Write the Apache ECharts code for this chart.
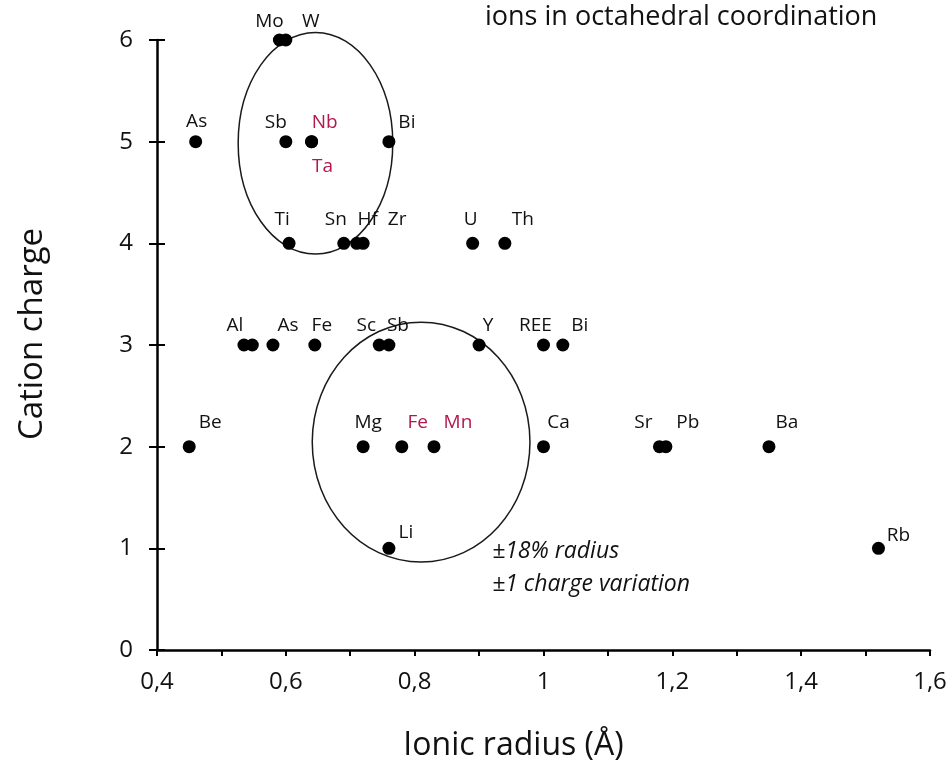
<!DOCTYPE html>
<html>
<head>
<meta charset="utf-8">
<title>Ions in octahedral coordination</title>
<script src="https://cdn.jsdelivr.net/npm/echarts@6/dist/echarts.min.js"></script>
<style>
  html, body { margin: 0; padding: 0; background: #fff; }
  #chart { width: 950px; height: 767px; }
</style>
</head>
<body>
<div id="chart"></div>
<script>
  // ions: name, ionic radius (Å), cation charge
  var ionNames  = ['Mo', 'W', 'As', 'Sb', 'Nb', 'Ta', 'Bi',
                   'Ti', 'Sn', 'Hf', 'Zr', 'U', 'Th',
                   'Al', '', 'As', 'Fe', 'Sc', 'Sb', 'Y', 'REE', 'Bi',
                   'Be', 'Mg', 'Fe', 'Mn', 'Ca', 'Sr', 'Pb', 'Ba',
                   'Li', 'Rb'];
  var ionRadius = [0.59, 0.60, 0.46, 0.60, 0.64, 0.64, 0.76,
                   0.605, 0.69, 0.71, 0.72, 0.89, 0.94,
                   0.535, 0.548, 0.58, 0.645, 0.745, 0.76, 0.90, 1.00, 1.03,
                   0.45, 0.72, 0.78, 0.83, 1.00, 1.18, 1.19, 1.35,
                   0.76, 1.52];
  var ionCharge = [6, 6, 5, 5, 5, 5, 5,
                   4, 4, 4, 4, 4, 4,
                   3, 3, 3, 3, 3, 3, 3, 3, 3,
                   2, 2, 2, 2, 2, 2, 2, 2,
                   1, 1];
  // ions written in red in the original
  var redIons = [4, 5, 24, 25];

  // substitution fields: centre radius, centre charge, half width, half height
  var fieldCx = [0.646, 0.81];
  var fieldCy = [4.985, 2.045];
  var fieldRx = [0.12, 0.169];
  var fieldRy = [1.09, 1.18];

  var xTicks = [0.4, 0.6, 0.8, 1.0, 1.2, 1.4, 1.6];
  var yTicks = [0, 1, 2, 3, 4, 5, 6];

  // label offsets (px) from each marker, same order as ionNames
  var labelOffset = [[-10, -18], [25, -18], [1, -20], [-10, -19], [13, -19], [11, 25], [18, -19],
                     [-7, -24], [-8, -24], [11, -24], [34, -24], [-2, -24], [18, -24],
                     [-9, -19], [0, 0], [15, -19], [7, -19], [-13, -19], [9, -19], [9, -19], [-8, -19], [17, -19],
                     [21, -24], [5, -24], [16, -24], [24, -24], [15, -24], [-16, -24], [22, -24], [18, -24],
                     [17, -16], [20, -13]];

  var FONT = 'Open Sans';
  var RED = '#b3184c';
  var INK = '#111';

  var ionData = ionNames.map(function (n, i) {
    return {
      name: n,
      value: [ionRadius[i], ionCharge[i]],
      label: {
        offset: labelOffset[i],
        color: redIons.indexOf(i) >= 0 ? RED : INK
      }
    };
  });
  var fieldData = fieldCx.map(function (c, i) {
    return [c, fieldCy[i], fieldRx[i], fieldRy[i]];
  });

  function fmtX(v) {
    var k = Math.round(v * 10);
    if (k % 2 !== 0) return '';
    return (k / 10).toString().replace('.', ',');
  }

  var chart = echarts.init(document.getElementById('chart'));
  chart.setOption({
    backgroundColor: '#fff',
    animation: false,
    grid: { left: 157, right: 20, top: 40, bottom: 117 },
    xAxis: {
      type: 'value', min: xTicks[0], max: xTicks[xTicks.length - 1], interval: 0.1,
      name: 'Ionic radius (Å)', nameLocation: 'middle', nameGap: 80,
      nameTextStyle: { fontFamily: FONT, fontSize: 32, color: INK, padding: [0, 60, 0, 0] },
      axisLine: { lineStyle: { color: '#000', width: 2.5 } },
      axisTick: { length: 6, lineStyle: { color: '#000', width: 2 } },
      axisLabel: { formatter: fmtX, fontFamily: FONT, fontSize: 24, color: INK, margin: 20 },
      splitLine: { show: false }
    },
    yAxis: [
      {
        type: 'value', min: yTicks[0], max: yTicks[yTicks.length - 1], interval: 1,
        name: 'Cation charge', nameLocation: 'middle', nameGap: 108,
        nameTextStyle: { fontFamily: FONT, fontSize: 33, color: INK, padding: [0, 0, 0, 22] },
        axisLine: { lineStyle: { color: '#000', width: 2.5 } },
        axisTick: { length: 8, lineStyle: { color: '#000', width: 2 } },
        axisLabel: { fontFamily: FONT, fontSize: 24, color: INK, margin: 24 },
        splitLine: { show: false }
      },
      {
        type: 'value', position: 'left', min: yTicks[0], max: yTicks[yTicks.length - 1], interval: 1,
        axisLine: { show: false },
        axisTick: { inside: true, length: 8, lineStyle: { color: '#000', width: 2 } },
        axisLabel: { show: false },
        splitLine: { show: false }
      }
    ],
    graphic: [
      {
        type: 'text', left: 485, top: 4,
        style: { text: 'ions in octahedral coordination', font: '27px "' + FONT + '"', fill: INK }
      },
      {
        type: 'text', left: 492, top: 540,
        style: { text: '±18% radius', font: 'italic 23px "' + FONT + '"', fill: INK }
      },
      {
        type: 'text', left: 492, top: 573,
        style: { text: '±1 charge variation', font: 'italic 23px "' + FONT + '"', fill: INK }
      }
    ],
    series: [
      {
        type: 'custom',
        silent: true,
        clip: false,
        z: 1,
        encode: { x: 0, y: 1 },
        data: fieldData,
        renderItem: function (params, api) {
          var c = api.coord([api.value(0), api.value(1)]);
          var s = api.size([api.value(2), api.value(3)]);
          return {
            type: 'ellipse',
            shape: { cx: c[0], cy: c[1], rx: s[0], ry: s[1] },
            style: { fill: 'none', stroke: '#1a1a1a', lineWidth: 1.5 }
          };
        }
      },
      {
        type: 'scatter',
        z: 3,
        clip: false,
        symbol: 'circle',
        symbolSize: 13,
        itemStyle: { color: '#000', opacity: 1 },
        label: {
          show: true,
          position: 'inside',
          formatter: '{b}',
          fontFamily: FONT,
          fontSize: 19
        },
        data: ionData
      }
    ]
  });
</script>
</body>
</html>
